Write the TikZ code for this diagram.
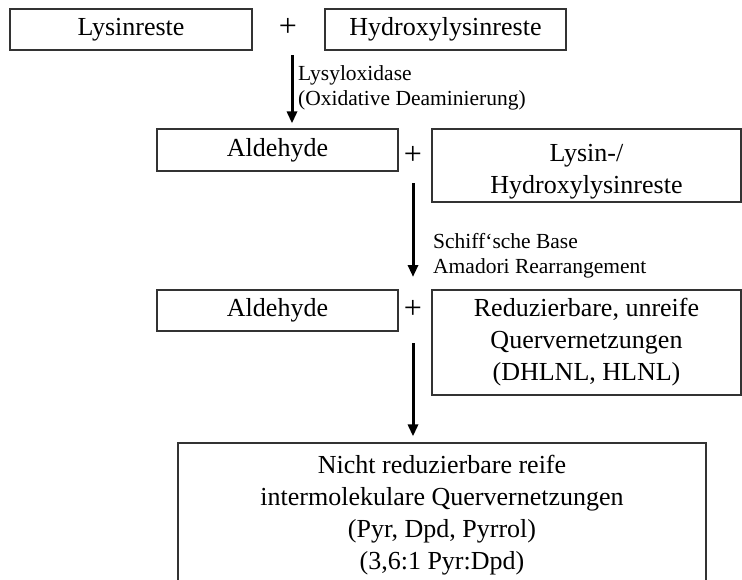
\documentclass[tikz,border=0pt]{standalone}
\usepackage{fontspec}
\setmainfont{Liberation Serif}
\usetikzlibrary{arrows.meta, positioning}
\definecolor{xlinkLine}{HTML}{333333}
\tikzset{
  xlinkfig/.style={
    x=1pt, y=-1pt,
    every node/.append style={font=\fontsize{26}{32}\selectfont},
    >={Triangle[width=10pt,length=12pt]},
  },
  stage/.style={
    draw=xlinkLine, line width=1.2pt, align=center, inner sep=0pt,
    minimum width=241pt, minimum height=41pt,
  },
  widestage/.style={stage, minimum width=309pt},
  plusnode/.style={inner sep=0pt, font=\fontsize{32}{32}\selectfont},
  flow/.style={->, line width=3pt},
  % Enzym- und Reaktionsangaben neben den Pfeilen
  enzyme/.style={font=\fontsize{21.5}{25}\selectfont, align=left, anchor=west, inner sep=0pt},
}
\begin{document}
\begin{tikzpicture}[xlinkfig]
  \useasboundingbox (0,0) rectangle (742,579);
  \clip (0,0) rectangle (742,579);
  \node[stage, minimum width=242pt] (Lysin) at (131,29.5) {Lysinreste};
  \node[plusnode] (Plus1) at (288,27) {+};
  \node[stage] (Hydroxy) at (445.5,29.5) {Hydroxylysinreste};
  \node[stage, minimum height=42pt] (Aldehyd1) at (277.5,150) {Aldehyde};
  \node[plusnode] (Plus2) at (413,155) {+};
  \node[widestage, minimum height=73pt, text height=62pt] (LysHyl) at (586.5,165.5) {Lysin-/\\Hydroxylysinreste};
  \node[stage] (Aldehyd2) at (277.5,310.5) {Aldehyde};
  \node[plusnode] (Plus3) at (413,309) {+};
  \node[widestage, minimum height=105pt] (Reduz) at (586.5,342.5) {Reduzierbare, unreife\\Quervernetzungen\\(DHLNL, HLNL)};
  \node[stage, minimum width=528pt, minimum height=144pt] (Reif) at (442,515) {Nicht reduzierbare reife\\intermolekulare Quervernetzungen\\(Pyr, Dpd, Pyrrol)\\(3,6:1 Pyr:Dpd)};
  \coordinate (Start1) at (292,55);
  \draw[flow, shorten >=5pt] (Start1) -- (Start1 |- Aldehyd1.north);
  \draw[flow, shorten <=28pt, shorten >=32pt] (Plus2.center) -- (Plus3.center);
  \draw[flow, shorten <=34pt, shorten >=6pt] (Plus3.center) -- (Plus3.center |- Reif.north);
  \node[enzyme] (Oxid) at (298,87.5) {Lysyloxidase\\(Oxidative Deaminierung)};
  \node[enzyme] (Schiff) at (433,255.5) {Schiff`sche Base\\Amadori Rearrangement};
\end{tikzpicture}
\end{document}
